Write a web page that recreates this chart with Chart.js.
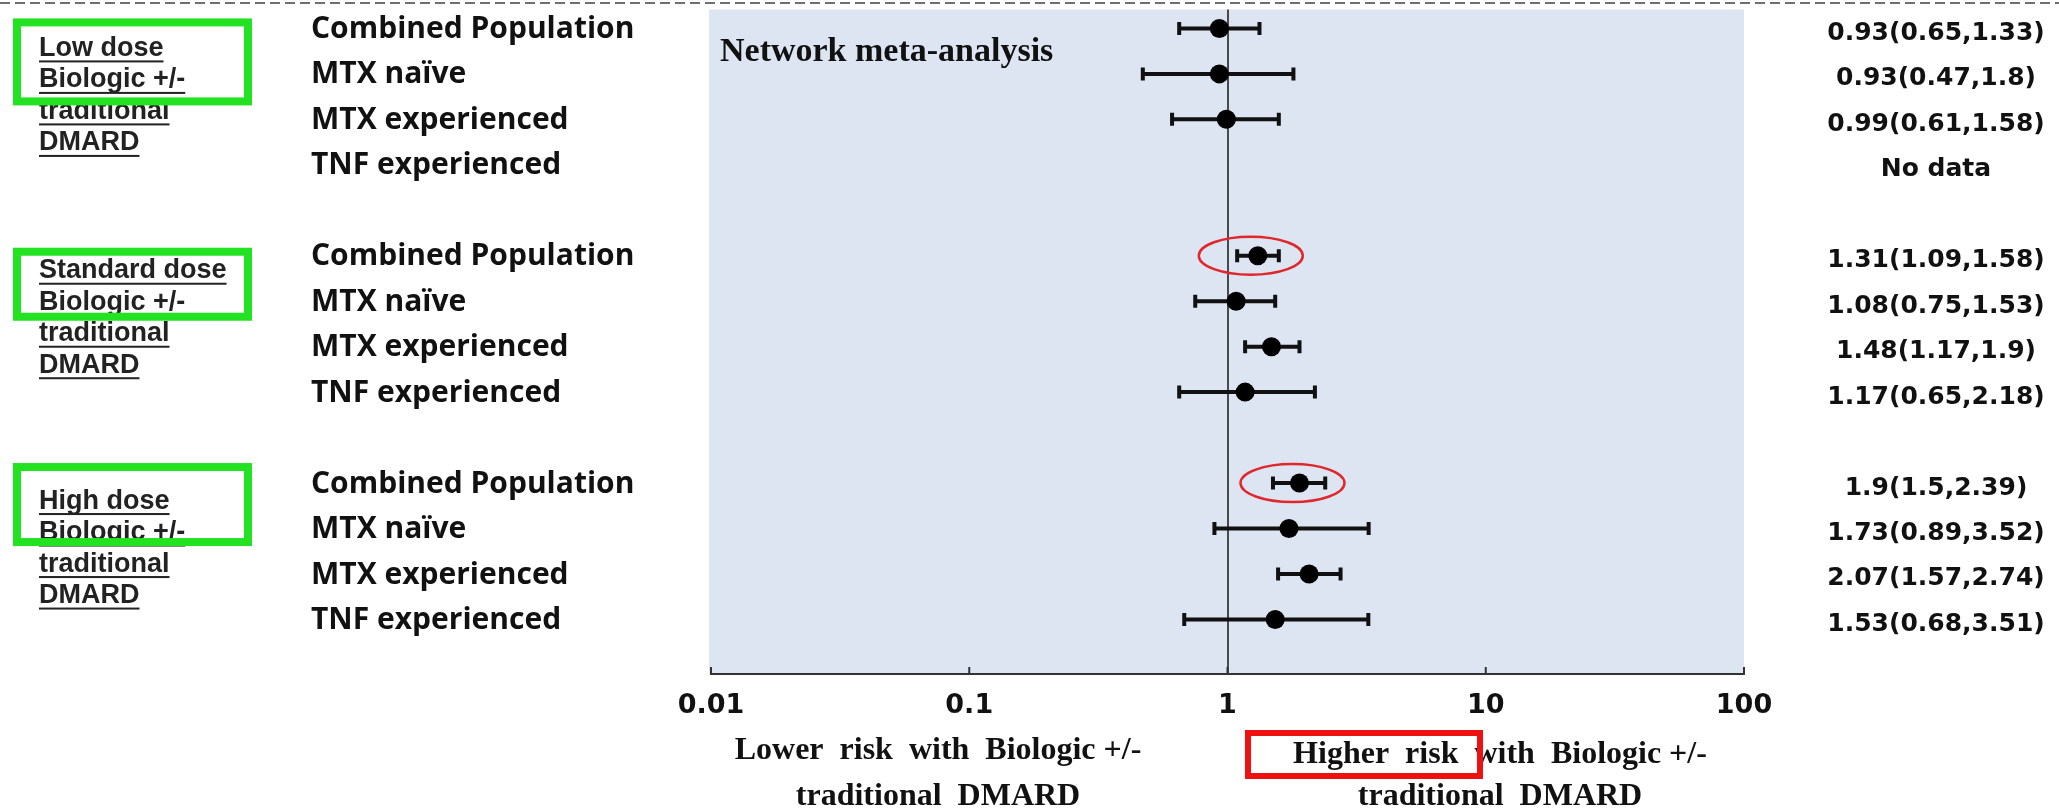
<!DOCTYPE html>
<html>
<head>
<meta charset="utf-8">
<script src="https://cdn.jsdelivr.net/npm/chart.js@4.4.1/dist/chart.umd.min.js"></script>
<style>
  html, body { margin: 0; padding: 0; background: #fff; }
  #wrap { width: 2059px; height: 811px; }
</style>
</head>
<body>
<div id="wrap"><canvas id="forest" width="2059" height="811"></canvas></div>
<script>
// data
var groupNames = [['Low dose', 'Biologic +/-', 'traditional', 'DMARD'],
                  ['Standard dose', 'Biologic +/-', 'traditional', 'DMARD'],
                  ['High dose', 'Biologic +/-', 'traditional', 'DMARD']];
var subgroupNames = ['Combined Population', 'MTX naïve', 'MTX experienced', 'TNF experienced'];

var lowEst = [0.93, 0.93, 0.99, null];
var lowLow = [0.65, 0.47, 0.61, null];
var lowHigh = [1.33, 1.8, 1.58, null];

var stdEst = [1.31, 1.08, 1.48, 1.17];
var stdLow = [1.09, 0.75, 1.17, 0.65];
var stdHigh = [1.58, 1.53, 1.9, 2.18];

var highEst = [1.9, 1.73, 2.07, 1.53];
var highLow = [1.5, 0.89, 1.57, 0.68];
var highHigh = [2.39, 3.52, 2.74, 3.51];

var tickValues = [0.01, 0.1, 1, 10, 100];
var tickLabels = ['0.01', '0.1', '1', '10', '100'];

// rows circled in red (Combined Population, standard & high dose)
var circledRows = [5, 10];

// rows: 4 per group, one blank row between groups
var groups = [[lowEst, lowLow, lowHigh], [stdEst, stdLow, stdHigh], [highEst, highLow, highHigh]];
var points = [];
var rowLabels = [];
var rowTexts = [];
groups.forEach(function(g, gi) {
    for (var i = 0; i < 4; i++) {
        var row = gi * 5 + i;
        rowLabels.push({ row: row, text: subgroupNames[i] });
        if (g[0][i] === null) {
            rowTexts.push({ row: row, text: 'No data' });
        } else {
            rowTexts.push({ row: row, text: g[0][i] + '(' + g[1][i] + ',' + g[2][i] + ')' });
            points.push({ x: g[0][i], y: row, lo: g[1][i], hi: g[2][i] });
        }
    }
});

var SANS = '"DejaVu Sans", sans-serif';
var SERIF = '"Liberation Serif", "Times New Roman", serif';

var forestPlugin = {
    id: 'forest',
    beforeDraw: function(chart) {
        var ctx = chart.ctx, a = chart.chartArea;
        ctx.save();
        ctx.fillStyle = '#ffffff';
        ctx.fillRect(0, 0, chart.width, chart.height);
        // shaded plot area
        ctx.fillStyle = '#dce5f1';
        ctx.fillRect(a.left - 2, a.top, a.right - a.left + 2, a.bottom - a.top);
        // dashed line at the top
        ctx.strokeStyle = '#6f6f6f';
        ctx.lineWidth = 2;
        ctx.setLineDash([10, 5]);
        ctx.beginPath();
        ctx.moveTo(0, 3);
        ctx.lineTo(chart.width, 3);
        ctx.stroke();
        ctx.restore();
    },
    beforeDatasetsDraw: function(chart) {
        var ctx = chart.ctx;
        var xs = chart.scales.x, ys = chart.scales.y;
        ctx.save();
        ctx.strokeStyle = '#111';
        ctx.lineWidth = 4;
        points.forEach(function(p) {
            var x1 = xs.getPixelForValue(p.lo);
            var x2 = xs.getPixelForValue(p.hi);
            var y = ys.getPixelForValue(p.y);
            ctx.beginPath();
            ctx.moveTo(x1, y); ctx.lineTo(x2, y);
            ctx.moveTo(x1, y - 6.5); ctx.lineTo(x1, y + 6.5);
            ctx.moveTo(x2, y - 6.5); ctx.lineTo(x2, y + 6.5);
            ctx.stroke();
        });
        ctx.restore();
    },
    afterDraw: function(chart) {
        var ctx = chart.ctx, a = chart.chartArea;
        var xs = chart.scales.x, ys = chart.scales.y;
        ctx.save();

        // tick marks pointing up into the plot
        ctx.strokeStyle = '#333';
        ctx.lineWidth = 2;
        tickValues.forEach(function(v) {
            var x = xs.getPixelForValue(v);
            ctx.beginPath();
            ctx.moveTo(x, a.bottom);
            ctx.lineTo(x, a.bottom - 7);
            ctx.stroke();
        });

        // red ellipses
        ctx.strokeStyle = '#e0282c';
        ctx.lineWidth = 2.5;
        circledRows.forEach(function(r) {
            var p = points.filter(function(q) { return q.y === r; })[0];
            var cx = xs.getPixelForValue(p.x) - 7;
            var cy = ys.getPixelForValue(r);
            ctx.beginPath();
            ctx.ellipse(cx, cy, 52, 19, 0, 0, Math.PI * 2);
            ctx.stroke();
        });

        // title inside the plot
        ctx.fillStyle = '#111';
        ctx.font = 'bold 34px ' + SERIF;
        ctx.textAlign = 'left';
        ctx.textBaseline = 'middle';
        ctx.fillText('Network meta-analysis', a.left + 9, 52);

        // subgroup labels
        ctx.font = 'bold 30px "Open Sans", Lato, sans-serif';
        rowLabels.forEach(function(l) {
            ctx.fillText(l.text, 311, ys.getPixelForValue(l.row) + 1);
        });

        // estimates column
        ctx.font = 'bold 25px ' + SANS;
        ctx.textAlign = 'center';
        rowTexts.forEach(function(t) {
            ctx.fillText(t.text, 1936, ys.getPixelForValue(t.row) + 5);
        });

        // group labels, underlined, with green boxes
        var lineOff = [20, 15, 18];
        var boxOff = [[-10, 77], [-8, 65], [-20, 63]];
        ctx.font = 'bold 27px "Liberation Sans", Arial, sans-serif';
        ctx.textAlign = 'left';
        groupNames.forEach(function(lines, gi) {
            var y0 = ys.getPixelForValue(gi * 5);
            lines.forEach(function(s, k) {
                var y = y0 + lineOff[gi] + k * 31.5;
                ctx.fillStyle = '#222';
                ctx.fillText(s, 39, y);
                var w = ctx.measureText(s).width;
                ctx.fillRect(39, y + 12, w, 2);
            });
            ctx.strokeStyle = '#22e222';
            ctx.lineWidth = 8;
            ctx.strokeRect(17, y0 + boxOff[gi][0] + 4, 231, boxOff[gi][1] - boxOff[gi][0] - 8);
        });

        // axis captions
        ctx.fillStyle = '#111';
        ctx.font = 'bold 32px ' + SERIF;
        ctx.textAlign = 'center';
        ctx.fillText('Lower  risk  with  Biologic +/-', 938, 751);
        ctx.fillText('traditional  DMARD', 938, 797);
        ctx.fillText('Higher  risk  with  Biologic +/-', 1500, 755);
        ctx.fillText('traditional  DMARD', 1500, 797);

        ctx.strokeStyle = '#ee1111';
        ctx.lineWidth = 6;
        ctx.strokeRect(1248, 733, 232, 43);
        ctx.restore();
    }
};

var ctx = document.getElementById('forest').getContext('2d');
var chart = new Chart(ctx, {
    type: 'scatter',
    data: {
        datasets: [{
            data: points,
            pointRadius: 9.5,
            pointHoverRadius: 9.5,
            backgroundColor: '#000',
            borderColor: '#000',
            borderWidth: 0
        }]
    },
    options: {
        responsive: false,
        animation: false,
        layout: { padding: { left: 711, right: 315, top: 6, bottom: 0 } },
        scales: {
            x: {
                type: 'logarithmic',
                min: 0.01,
                max: 100,
                afterBuildTicks: function(axis) {
                    axis.ticks = tickValues.map(function(v) { return { value: v }; });
                },
                afterFit: function(axis) {
                    axis.height = 137;
                },
                ticks: {
                    autoSkip: false,
                    maxRotation: 0,
                    padding: 16,
                    color: '#111',
                    font: { family: 'DejaVu Sans', weight: 'bold', size: 27 },
                    callback: function(value, index) {
                        return tickLabels[index];
                    }
                },
                grid: {
                    drawTicks: false,
                    lineWidth: 2,
                    color: function(c) {
                        return c.tick && c.tick.value === 1 ? '#4a4a4a' : 'rgba(0,0,0,0)';
                    }
                },
                border: { display: true, color: '#333', width: 2 }
            },
            y: {
                type: 'linear',
                min: -0.416,
                max: 14.2,
                reverse: true,
                display: false
            }
        },
        plugins: {
            legend: { display: false },
            tooltip: { enabled: false }
        }
    },
    plugins: [forestPlugin]
});
</script>
</body>
</html>
